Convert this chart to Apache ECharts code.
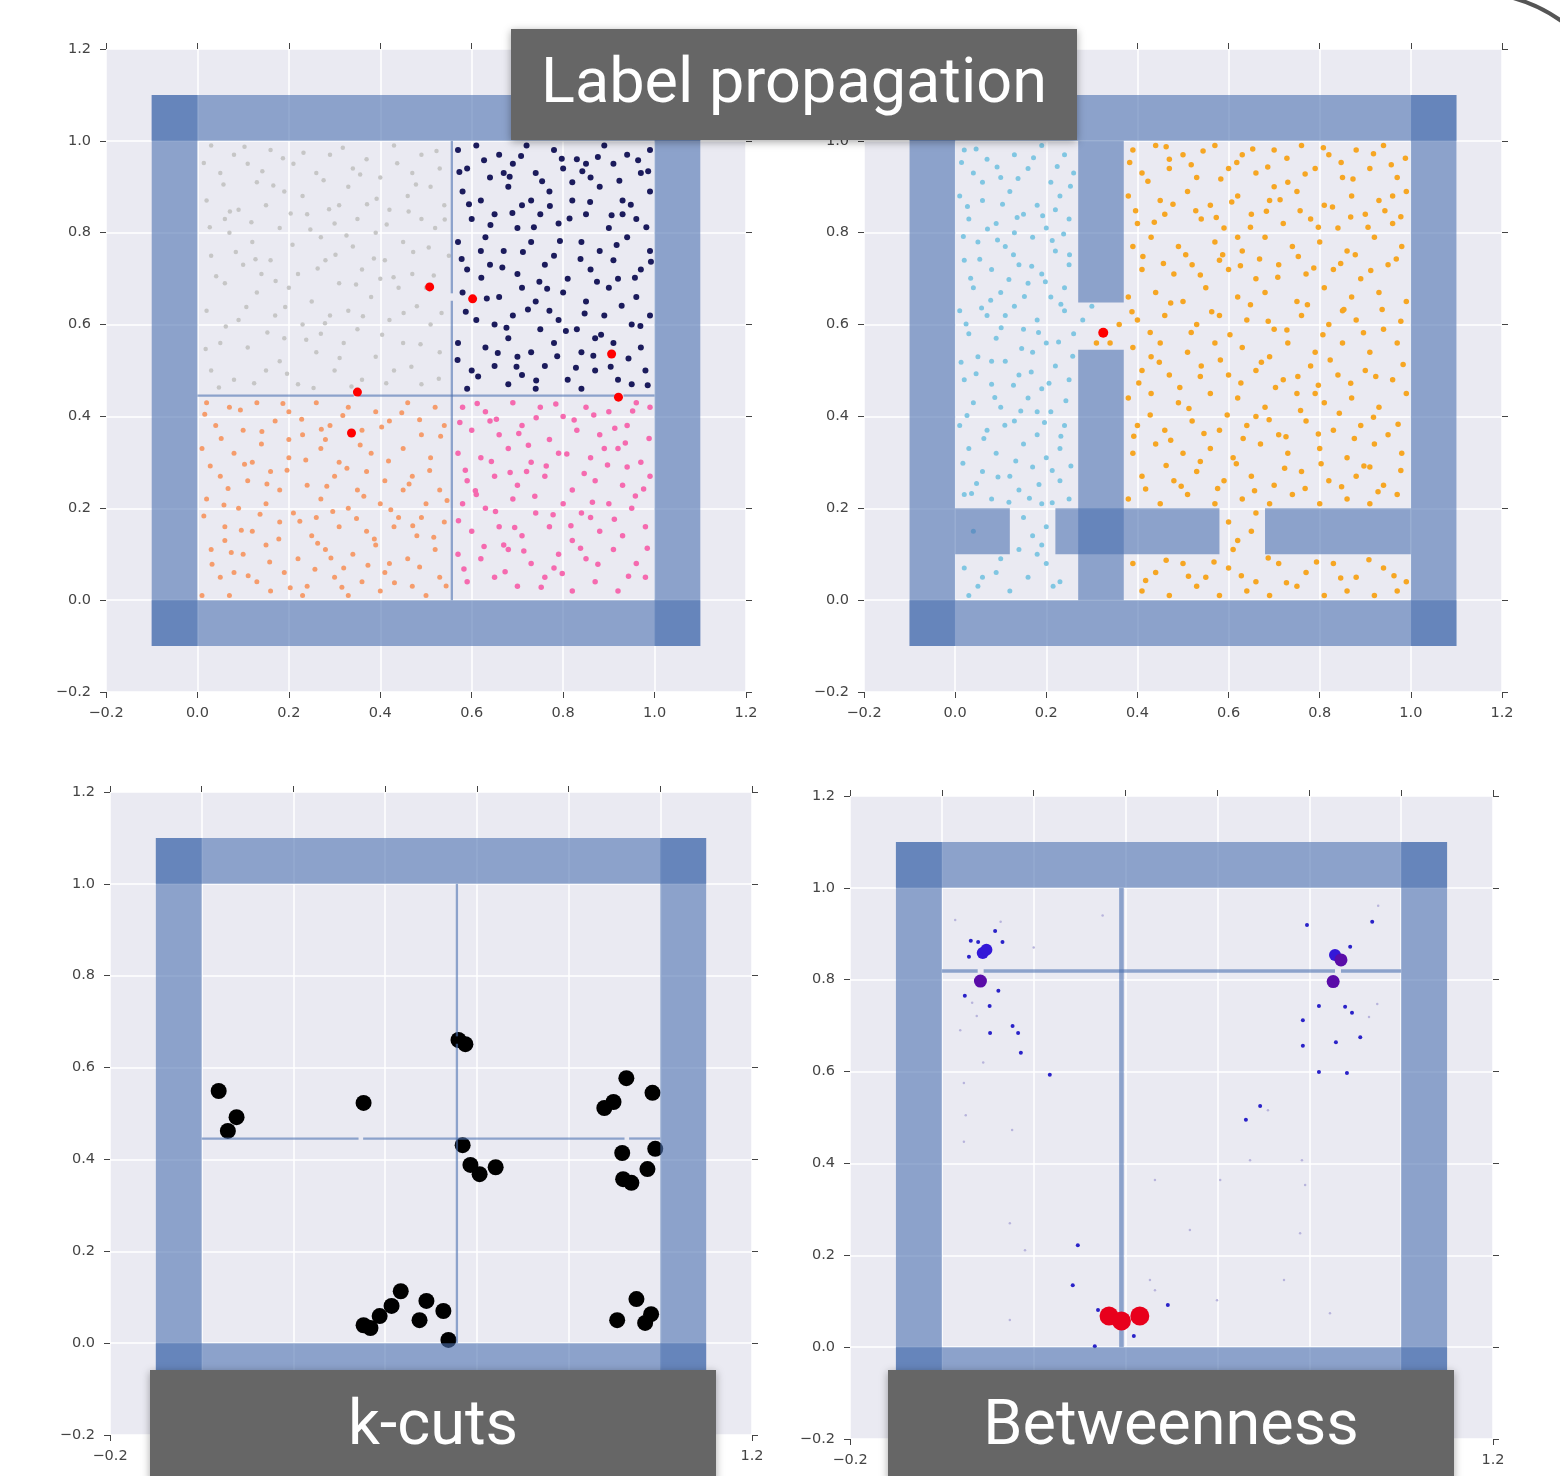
<!DOCTYPE html>
<html>
<head>
<meta charset="utf-8">
<script src="https://cdn.jsdelivr.net/npm/echarts@6/dist/echarts.min.js"></script>
<style>
    html, body { margin: 0; padding: 0; background: #fff; }
    #main { width: 1560px; height: 1476px; }
</style>
</head>
<body>
<div id="main"></div>
<script>
// axis ticks shared by all four panels
var tickValues = [-0.2, 0, 0.2, 0.4, 0.6, 0.8, 1.0, 1.2];

// walls: [x0, y0, x1, y1]
var outerWalls = [[-0.1, 1.0, 1.1, 1.1], [-0.1, -0.1, 1.1, 0.0], [-0.1, -0.1, 0.0, 1.1], [1.0, -0.1, 1.1, 1.1]];
var crossWalls = [[0.0, 0.443, 0.342, 0.448], [0.352, 0.443, 0.922, 0.448], [0.932, 0.443, 1.0, 0.448],
    [0.554, 0.0, 0.559, 0.652], [0.554, 0.668, 0.559, 1.0]];
var roomWalls = [[0.27, 0.0, 0.37, 0.545], [0.27, 0.648, 0.37, 1.0],
    [0.0, 0.1, 0.12, 0.2], [0.22, 0.1, 0.58, 0.2], [0.68, 0.1, 1.0, 0.2]];
var hubWalls = [[0.0, 0.815, 0.078, 0.823], [0.091, 0.815, 0.856, 0.823], [0.869, 0.815, 1.0, 0.823],
    [0.386, 0.0, 0.396, 0.052], [0.386, 0.068, 0.396, 1.0]];

// label propagation, left figure
var grayPts = [[0.03,0.99],[0.08,0.97],[0.16,0.98],[0.21,0.95],[0.29,0.97],[0.37,0.96],[0.43,0.99],[0.49,0.97],[0.53,0.94],
    [0.05,0.93],[0.13,0.91],[0.19,0.89],[0.26,0.93],[0.33,0.90],[0.40,0.92],[0.46,0.88],[0.51,0.90],
    [0.02,0.87],[0.09,0.85],[0.15,0.86],[0.24,0.84],[0.31,0.86],[0.35,0.83],[0.42,0.85],[0.49,0.83],[0.54,0.86],
    [0.07,0.80],[0.12,0.78],[0.18,0.81],[0.27,0.79],[0.34,0.77],[0.39,0.80],[0.45,0.78],[0.52,0.81],
    [0.03,0.75],[0.10,0.73],[0.16,0.74],[0.22,0.71],[0.28,0.74],[0.36,0.72],[0.41,0.74],[0.47,0.71],[0.55,0.75],
    [0.06,0.69],[0.13,0.67],[0.20,0.68],[0.25,0.65],[0.31,0.69],[0.38,0.66],[0.44,0.68],[0.48,0.64],
    [0.02,0.63],[0.09,0.61],[0.17,0.62],[0.23,0.60],[0.29,0.62],[0.35,0.59],[0.42,0.61],[0.51,0.60],
    [0.05,0.56],[0.11,0.55],[0.19,0.57],[0.26,0.54],[0.32,0.56],[0.39,0.53],[0.45,0.56],[0.53,0.54],
    [0.03,0.50],[0.08,0.48],[0.15,0.50],[0.22,0.47],[0.30,0.50],[0.36,0.48],[0.43,0.50],[0.49,0.47],
    [0.11,0.95],[0.34,0.94],[0.23,0.88],[0.47,0.93],[0.06,0.83],[0.30,0.82],[0.14,0.71],[0.40,0.70],
    [0.33,0.63],[0.27,0.58],[0.50,0.68],[0.18,0.52]];
var grayMore = [[0.014,0.952],[0.057,0.905],[0.103,0.987],[0.142,0.934],[0.187,0.962],[0.232,0.974],[0.276,0.914],[0.318,0.985],
    [0.356,0.927],[0.392,0.874],[0.437,0.951],[0.478,0.905],[0.523,0.978],[0.027,0.812],[0.071,0.846],[0.118,0.823],
    [0.166,0.903],[0.204,0.842],[0.247,0.807],[0.288,0.851],[0.326,0.794],[0.371,0.862],[0.414,0.818],[0.462,0.846],
    [0.506,0.768],[0.541,0.829],[0.041,0.705],[0.084,0.758],[0.127,0.742],[0.171,0.695],[0.208,0.774],[0.263,0.722],
    [0.302,0.752],[0.347,0.687],[0.386,0.744],[0.429,0.703],[0.472,0.758],[0.517,0.707],[0.018,0.547],[0.062,0.596],
    [0.107,0.638],[0.153,0.583],[0.192,0.638],[0.238,0.567],[0.279,0.603],[0.311,0.527],[0.362,0.618],[0.404,0.578],
    [0.451,0.625],[0.488,0.557],[0.534,0.625],[0.047,0.463],[0.124,0.472],[0.196,0.493],[0.254,0.462],[0.337,0.465],
    [0.413,0.472],[0.468,0.508],[0.528,0.482]];
var navyPts = [[0.57,0.98],[0.61,0.99],[0.66,0.97],[0.72,0.99],[0.78,0.98],[0.83,0.96],[0.89,0.99],[0.94,0.97],[0.99,0.98],
    [0.59,0.94],[0.64,0.92],[0.69,0.95],[0.74,0.93],[0.80,0.94],[0.86,0.92],[0.91,0.95],[0.97,0.93],
    [0.58,0.89],[0.62,0.87],[0.68,0.90],[0.71,0.86],[0.77,0.89],[0.82,0.87],[0.88,0.90],[0.93,0.87],[0.99,0.89],
    [0.60,0.83],[0.65,0.84],[0.70,0.81],[0.75,0.84],[0.79,0.82],[0.85,0.84],[0.90,0.81],[0.96,0.83],
    [0.57,0.78],[0.63,0.79],[0.67,0.76],[0.73,0.78],[0.78,0.75],[0.84,0.78],[0.88,0.76],[0.94,0.79],[0.99,0.76],
    [0.59,0.72],[0.64,0.73],[0.70,0.71],[0.76,0.73],[0.81,0.70],[0.86,0.72],[0.92,0.70],[0.97,0.72],
    [0.58,0.67],[0.66,0.66],[0.71,0.68],[0.74,0.65],[0.80,0.67],[0.85,0.65],[0.90,0.68],[0.96,0.66],
    [0.61,0.61],[0.65,0.60],[0.69,0.62],[0.75,0.59],[0.79,0.61],[0.83,0.59],[0.89,0.62],[0.95,0.60],[0.99,0.62],
    [0.57,0.56],[0.63,0.55],[0.68,0.57],[0.73,0.54],[0.78,0.56],[0.84,0.54],[0.91,0.56],[0.97,0.55],
    [0.60,0.50],[0.65,0.51],[0.71,0.49],[0.76,0.51],[0.81,0.48],[0.87,0.50],[0.92,0.48],[0.98,0.50],
    [0.59,0.46],[0.68,0.47],[0.74,0.46],[0.84,0.46],[0.95,0.47],
    [0.67,0.93],[0.85,0.95],[0.73,0.87],[0.62,0.76],[0.91,0.74],[0.77,0.63],[0.87,0.57],[0.70,0.53],[0.82,0.91],[0.93,0.84]];
var navyMore = [[0.573,0.932],[0.627,0.958],[0.683,0.922],[0.708,0.967],[0.754,0.912],[0.797,0.961],[0.842,0.934],[0.876,0.965],
    [0.923,0.913],[0.964,0.958],[0.986,0.934],[0.594,0.862],[0.641,0.817],[0.689,0.843],[0.736,0.812],[0.771,0.858],
    [0.814,0.831],[0.859,0.867],[0.906,0.838],[0.948,0.861],[0.982,0.812],[0.578,0.743],[0.621,0.702],[0.667,0.724],
    [0.712,0.758],[0.748,0.693],[0.793,0.782],[0.838,0.743],[0.874,0.693],[0.917,0.773],[0.957,0.702],[0.992,0.737],
    [0.587,0.628],[0.633,0.657],[0.676,0.593],[0.723,0.633],[0.765,0.678],[0.806,0.586],[0.847,0.624],[0.883,0.578],
    [0.928,0.641],[0.969,0.597],[0.569,0.523],[0.614,0.487],[0.657,0.538],[0.698,0.508],[0.741,0.478],[0.787,0.531],
    [0.828,0.506],[0.866,0.532],[0.904,0.508],[0.943,0.526],[0.985,0.468]];
var salmonPts = [[0.02,0.43],[0.07,0.42],[0.13,0.43],[0.20,0.41],[0.26,0.43],[0.33,0.42],[0.39,0.41],[0.46,0.43],[0.52,0.42],
    [0.04,0.38],[0.10,0.37],[0.17,0.39],[0.23,0.36],[0.29,0.38],[0.36,0.37],[0.42,0.39],[0.49,0.36],[0.54,0.38],
    [0.01,0.33],[0.08,0.32],[0.14,0.34],[0.20,0.31],[0.27,0.33],[0.31,0.30],[0.38,0.32],[0.45,0.33],[0.51,0.31],
    [0.05,0.27],[0.11,0.26],[0.16,0.28],[0.24,0.25],[0.30,0.27],[0.35,0.24],[0.41,0.26],[0.47,0.27],[0.53,0.24],
    [0.02,0.22],[0.09,0.20],[0.15,0.21],[0.21,0.19],[0.27,0.22],[0.33,0.20],[0.40,0.21],[0.44,0.18],[0.50,0.21],
    [0.06,0.16],[0.12,0.15],[0.18,0.17],[0.25,0.14],[0.31,0.16],[0.37,0.15],[0.43,0.16],[0.48,0.14],[0.54,0.17],
    [0.03,0.11],[0.10,0.10],[0.15,0.12],[0.22,0.09],[0.28,0.11],[0.34,0.10],[0.39,0.12],[0.46,0.09],[0.52,0.11],
    [0.05,0.05],[0.08,0.06],[0.13,0.04],[0.19,0.06],[0.24,0.03],[0.30,0.05],[0.36,0.04],[0.41,0.06],[0.47,0.03],[0.53,0.05],
    [0.01,0.01],[0.07,0.01],[0.16,0.02],[0.23,0.01],[0.33,0.01],[0.40,0.02],[0.50,0.01],
    [0.12,0.30],[0.28,0.35],[0.18,0.24],[0.37,0.28],[0.45,0.24],[0.06,0.13],[0.26,0.18],[0.42,0.08],[0.20,0.35],[0.49,0.18],[0.32,0.07]];
var salmonMore = [[0.016,0.405],[0.052,0.352],[0.094,0.414],[0.141,0.367],[0.187,0.428],[0.228,0.394],[0.271,0.372],[0.318,0.402],
    [0.356,0.338],[0.403,0.377],[0.447,0.408],[0.486,0.393],[0.532,0.357],[0.028,0.292],[0.067,0.243],[0.103,0.296],
    [0.152,0.253],[0.196,0.283],[0.237,0.305],[0.283,0.248],[0.327,0.287],[0.364,0.226],[0.418,0.303],[0.463,0.253],
    [0.508,0.282],[0.546,0.217],[0.014,0.183],[0.058,0.207],[0.096,0.152],[0.137,0.187],[0.178,0.133],[0.224,0.172],
    [0.263,0.124],[0.296,0.193],[0.348,0.178],[0.387,0.133],[0.423,0.197],[0.471,0.162],[0.517,0.137],[0.032,0.078],
    [0.074,0.104],[0.111,0.053],[0.158,0.083],[0.203,0.027],[0.257,0.067],[0.292,0.092],[0.316,0.028],[0.373,0.076],
    [0.431,0.038],[0.486,0.072],[0.544,0.031]];
var pinkPts = [[0.58,0.42],[0.63,0.41],[0.69,0.43],[0.75,0.42],[0.80,0.40],[0.85,0.42],[0.90,0.41],[0.96,0.43],[0.99,0.42],
    [0.60,0.37],[0.66,0.36],[0.71,0.38],[0.77,0.35],[0.83,0.37],[0.88,0.36],[0.94,0.38],
    [0.57,0.32],[0.62,0.31],[0.68,0.33],[0.73,0.30],[0.79,0.32],[0.86,0.31],[0.92,0.33],[0.97,0.30],
    [0.59,0.26],[0.65,0.27],[0.70,0.25],[0.76,0.27],[0.82,0.24],[0.87,0.26],[0.93,0.25],[0.99,0.27],
    [0.58,0.21],[0.63,0.20],[0.69,0.22],[0.74,0.19],[0.80,0.21],[0.84,0.19],[0.90,0.21],[0.95,0.20],
    [0.60,0.15],[0.66,0.16],[0.71,0.14],[0.77,0.16],[0.82,0.13],[0.88,0.15],[0.93,0.14],[0.98,0.16],
    [0.57,0.10],[0.62,0.09],[0.68,0.11],[0.73,0.08],[0.79,0.10],[0.85,0.09],[0.91,0.11],[0.96,0.08],
    [0.59,0.04],[0.65,0.05],[0.70,0.03],[0.76,0.05],[0.82,0.02],[0.87,0.04],[0.92,0.02],[0.98,0.05],
    [0.64,0.39],[0.72,0.28],[0.86,0.18],[0.61,0.23],[0.78,0.07],[0.94,0.29],[0.67,0.12],[0.89,0.33]];
var pinkMore = [[0.574,0.387],[0.612,0.428],[0.654,0.394],[0.703,0.363],[0.741,0.397],[0.784,0.427],[0.824,0.392],[0.867,0.403],
    [0.913,0.374],[0.952,0.412],[0.988,0.352],[0.586,0.283],[0.643,0.302],[0.684,0.278],[0.724,0.337],[0.763,0.292],
    [0.808,0.318],[0.846,0.276],[0.897,0.294],[0.936,0.342],[0.976,0.242],[0.571,0.173],[0.608,0.238],[0.652,0.193],
    [0.694,0.158],[0.738,0.226],[0.778,0.186],[0.817,0.162],[0.864,0.213],[0.912,0.176],[0.958,0.227],[0.583,0.068],
    [0.627,0.117],[0.673,0.062],[0.714,0.107],[0.752,0.028],[0.798,0.058],[0.838,0.113],[0.876,0.078],[0.943,0.052],
    [0.984,0.113]];
var agentsA = [[0.508,0.682],[0.602,0.656],[0.906,0.536],[0.921,0.442],[0.337,0.364],[0.350,0.453]];

// label propagation, right figure
var bluePts = [[0.02,0.98],[0.07,0.96],[0.13,0.97],[0.19,0.99],[0.24,0.97],
    [0.04,0.93],[0.10,0.92],[0.16,0.94],[0.21,0.91],[0.26,0.93],
    [0.01,0.88],[0.06,0.87],[0.12,0.89],[0.18,0.86],[0.23,0.88],
    [0.03,0.83],[0.09,0.82],[0.15,0.84],[0.20,0.81],[0.25,0.83],
    [0.05,0.78],[0.11,0.77],[0.17,0.79],[0.22,0.76],[0.02,0.74],
    [0.08,0.72],[0.14,0.73],[0.19,0.71],[0.25,0.73],[0.04,0.68],
    [0.10,0.67],[0.16,0.69],[0.21,0.66],[0.01,0.63],[0.07,0.62],
    [0.13,0.64],[0.18,0.61],[0.24,0.63],[0.03,0.58],[0.09,0.57],
    [0.15,0.59],[0.20,0.56],[0.26,0.58],[0.05,0.53],[0.11,0.52],
    [0.17,0.54],[0.22,0.51],[0.02,0.48],[0.08,0.47],[0.14,0.49],
    [0.19,0.46],[0.25,0.48],[0.04,0.43],[0.10,0.42],[0.16,0.44],
    [0.21,0.41],[0.01,0.38],[0.07,0.37],[0.13,0.39],[0.18,0.36],
    [0.24,0.38],[0.03,0.33],[0.09,0.32],[0.15,0.34],[0.20,0.31],
    [0.06,0.28],[0.12,0.27],[0.17,0.29],[0.23,0.26],[0.02,0.23],
    [0.08,0.22],[0.14,0.24],[0.19,0.21],[0.25,0.22],
    [0.15,0.18],[0.17,0.14],[0.20,0.16],[0.14,0.11],[0.19,0.12],
    [0.02,0.07],[0.05,0.03],[0.09,0.06],[0.12,0.02],[0.16,0.05],[0.20,0.08],[0.23,0.04],[0.03,0.01],[0.10,0.09],
    [0.11,0.62],[0.06,0.91],[0.22,0.85],[0.13,0.80],[0.24,0.68],[0.08,0.52],[0.18,0.41],[0.23,0.33],[0.04,0.15],
    [0.28,0.61],[0.30,0.64]];
var blueMore = [[0.014,0.953],[0.046,0.982],[0.092,0.943],[0.138,0.918],[0.172,0.963],[0.224,0.944],[0.253,0.901],
    [0.027,0.857],[0.071,0.808],[0.104,0.862],[0.136,0.833],[0.192,0.837],[0.238,0.797],[0.018,0.792],[0.054,0.742],
    [0.093,0.784],[0.128,0.752],[0.168,0.727],[0.213,0.783],[0.251,0.752],[0.034,0.701],[0.078,0.653],[0.118,0.698],
    [0.152,0.661],[0.198,0.693],[0.232,0.644],[0.024,0.601],[0.058,0.636],[0.101,0.593],[0.146,0.548],[0.183,0.583],
    [0.227,0.562],[0.258,0.531],[0.013,0.518],[0.046,0.493],[0.087,0.441],[0.128,0.468],[0.167,0.497],[0.206,0.472],
    [0.243,0.434],[0.026,0.402],[0.063,0.352],[0.109,0.381],[0.144,0.412],[0.196,0.387],[0.232,0.357],[0.017,0.298],
    [0.047,0.254],[0.094,0.268],[0.133,0.303],[0.184,0.252],[0.213,0.282],[0.254,0.292],[0.036,0.232],[0.118,0.213],
    [0.163,0.222],[0.213,0.212],[0.180,0.100],[0.060,0.050],[0.215,0.030]];
var amberPts = [[0.39,0.98],[0.44,0.99],[0.50,0.97],[0.57,0.99],[0.63,0.97],[0.70,0.98],[0.76,0.99],[0.82,0.97],[0.88,0.98],[0.94,0.99],
    [0.41,0.93],[0.47,0.94],[0.53,0.92],[0.60,0.94],[0.66,0.93],[0.73,0.91],[0.79,0.94],[0.85,0.92],[0.91,0.94],[0.97,0.92],
    [0.38,0.88],[0.45,0.87],[0.51,0.89],[0.56,0.86],[0.62,0.88],[0.69,0.87],[0.75,0.89],[0.81,0.86],[0.87,0.88],[0.93,0.87],[0.99,0.89],
    [0.40,0.82],[0.46,0.84],[0.54,0.83],[0.59,0.81],[0.65,0.84],[0.72,0.82],[0.78,0.83],[0.84,0.81],[0.90,0.84],[0.96,0.82],
    [0.39,0.77],[0.43,0.79],[0.49,0.77],[0.57,0.78],[0.63,0.76],[0.68,0.79],[0.74,0.77],[0.80,0.78],[0.86,0.76],[0.92,0.79],[0.98,0.77],
    [0.41,0.72],[0.48,0.71],[0.52,0.73],[0.60,0.72],[0.66,0.70],[0.71,0.73],[0.77,0.71],[0.83,0.72],[0.89,0.70],[0.95,0.73],
    [0.38,0.66],[0.44,0.67],[0.50,0.65],[0.55,0.68],[0.62,0.66],[0.68,0.67],[0.75,0.65],[0.81,0.68],[0.87,0.66],[0.93,0.67],[0.99,0.65],
    [0.31,0.56],[0.34,0.56],[0.36,0.60],[0.40,0.61],[0.46,0.62],[0.53,0.60],[0.58,0.62],[0.64,0.61],[0.70,0.59],[0.76,0.62],[0.82,0.60],[0.88,0.61],[0.94,0.59],
    [0.39,0.55],[0.45,0.56],[0.51,0.54],[0.57,0.56],[0.63,0.55],[0.69,0.53],[0.73,0.56],[0.79,0.54],[0.85,0.56],[0.91,0.54],[0.97,0.56],
    [0.41,0.50],[0.47,0.49],[0.54,0.51],[0.60,0.49],[0.66,0.50],[0.72,0.48],[0.78,0.51],[0.84,0.49],[0.90,0.50],[0.96,0.48],
    [0.38,0.44],[0.43,0.45],[0.49,0.43],[0.56,0.45],[0.62,0.44],[0.68,0.42],[0.75,0.45],[0.81,0.43],[0.87,0.44],[0.93,0.42],[0.99,0.45],
    [0.40,0.38],[0.46,0.37],[0.52,0.39],[0.58,0.37],[0.64,0.38],[0.71,0.36],[0.77,0.39],[0.83,0.37],[0.89,0.38],[0.95,0.36],
    [0.39,0.32],[0.44,0.34],[0.50,0.32],[0.56,0.33],[0.61,0.31],[0.67,0.34],[0.73,0.32],[0.80,0.33],[0.86,0.31],[0.92,0.34],[0.98,0.32],
    [0.41,0.27],[0.48,0.26],[0.53,0.28],[0.59,0.26],[0.65,0.27],[0.70,0.25],[0.76,0.28],[0.82,0.26],[0.88,0.27],[0.94,0.25],
    [0.38,0.22],[0.45,0.21],[0.51,0.23],[0.57,0.21],[0.63,0.22],[0.69,0.21],[0.74,0.23],[0.80,0.21],[0.86,0.22],[0.91,0.21],[0.97,0.23],
    [0.60,0.17],[0.62,0.13],[0.65,0.15],[0.61,0.11],[0.66,0.19],
    [0.39,0.08],[0.44,0.06],[0.50,0.08],[0.55,0.05],[0.60,0.07],[0.66,0.04],[0.71,0.08],[0.77,0.06],[0.83,0.08],[0.88,0.05],[0.94,0.07],[0.99,0.04],
    [0.41,0.02],[0.47,0.01],[0.53,0.03],[0.58,0.01],[0.64,0.02],[0.69,0.01],[0.75,0.03],[0.81,0.01],[0.86,0.02],[0.92,0.01],[0.97,0.02],
    [0.47,0.96],[0.70,0.90],[0.58,0.74],[0.85,0.63],[0.43,0.53],[0.66,0.40],[0.91,0.29],[0.79,0.45],[0.62,0.79],[0.96,0.88]];
var amberMore = [[0.383,0.953],[0.423,0.912],[0.463,0.987],[0.518,0.948],[0.544,0.978],[0.583,0.917],[0.618,0.953],[0.653,0.982],
    [0.686,0.943],[0.728,0.962],[0.768,0.928],[0.808,0.985],[0.847,0.953],[0.873,0.917],[0.918,0.972],[0.957,0.948],
    [0.988,0.962],[0.396,0.848],[0.437,0.823],[0.478,0.862],[0.528,0.848],[0.573,0.833],[0.607,0.867],[0.648,0.812],
    [0.683,0.847],[0.713,0.872],[0.757,0.848],[0.797,0.812],[0.828,0.856],[0.868,0.834],[0.906,0.812],[0.943,0.848],
    [0.978,0.835],[0.412,0.748],[0.457,0.733],[0.506,0.752],[0.538,0.708],[0.587,0.752],[0.626,0.728],[0.668,0.743],
    [0.708,0.703],[0.753,0.748],[0.787,0.723],[0.846,0.733],[0.878,0.752],[0.912,0.718],[0.968,0.743],[0.388,0.628],
    [0.428,0.583],[0.473,0.647],[0.518,0.583],[0.563,0.628],[0.603,0.578],[0.648,0.643],[0.687,0.607],[0.728,0.588],
    [0.773,0.643],[0.807,0.578],[0.853,0.633],[0.896,0.582],[0.937,0.633],[0.978,0.607],[0.403,0.473],[0.448,0.518],
    [0.493,0.463],[0.538,0.487],[0.582,0.523],[0.627,0.473],[0.672,0.518],[0.703,0.463],[0.752,0.487],[0.797,0.468],
    [0.823,0.523],[0.868,0.472],[0.923,0.487],[0.983,0.513],[0.392,0.357],[0.428,0.403],[0.473,0.348],[0.513,0.417],
    [0.546,0.363],[0.597,0.403],[0.632,0.352],[0.689,0.393],[0.726,0.356],[0.758,0.413],[0.797,0.362],[0.843,0.407],
    [0.876,0.352],[0.918,0.398],[0.972,0.383],[0.418,0.242],[0.463,0.293],[0.496,0.248],[0.538,0.302],[0.576,0.243],
    [0.617,0.297],[0.657,0.238],[0.723,0.287],[0.768,0.243],[0.803,0.297],[0.848,0.247],[0.897,0.292],[0.928,0.236],
    [0.978,0.282],[0.418,0.043],[0.463,0.087],[0.512,0.052],[0.568,0.083],[0.628,0.053],[0.687,0.092],[0.727,0.038],
    [0.793,0.083],[0.846,0.048],[0.908,0.088],[0.963,0.053]];
var agentsB = [[0.325,0.582]];

// k-cuts
var cutPts = [[0.037,0.549],[0.076,0.492],[0.057,0.462],[0.353,0.523],[0.560,0.660],[0.575,0.651],
    [0.569,0.431],[0.586,0.388],[0.606,0.368],[0.641,0.383],[0.926,0.577],[0.983,0.545],[0.878,0.512],
    [0.898,0.525],[0.989,0.423],[0.917,0.414],[0.972,0.379],[0.919,0.357],[0.937,0.349],
    [0.353,0.039],[0.368,0.033],[0.388,0.059],[0.414,0.081],[0.434,0.113],[0.475,0.050],[0.490,0.092],
    [0.527,0.070],[0.538,0.007],[0.906,0.050],[0.948,0.096],[0.980,0.063],[0.967,0.044]];

// betweenness
var btwDots = [[0.063,0.885],[0.079,0.882],[0.059,0.850],[0.116,0.906],[0.132,0.882],[0.123,0.776],[0.050,0.765],
    [0.104,0.743],[0.154,0.699],[0.166,0.684],[0.105,0.684],[0.172,0.641],[0.235,0.593],[0.795,0.919],[0.937,0.926],
    [0.889,0.872],[0.878,0.741],[0.893,0.728],[0.821,0.743],[0.786,0.712],[0.786,0.656],[0.858,0.664],[0.911,0.675],
    [0.882,0.597],[0.821,0.599],[0.693,0.525],[0.662,0.495],[0.492,0.092],[0.296,0.222],[0.285,0.135],[0.340,0.081],
    [0.418,0.024],[0.333,0.002]];
var btwFaint = [[0.128,0.926],[0.066,0.750],[0.076,0.721],[0.930,0.719],[0.948,0.747],[0.950,0.961],[0.710,0.516],
    [0.784,0.407],[0.791,0.353],[0.671,0.407],[0.464,0.364],[0.148,0.270],[0.181,0.211],[0.048,0.575],[0.052,0.505],
    [0.048,0.447],[0.153,0.473],[0.540,0.255],[0.780,0.248],[0.845,0.074],[0.599,0.102],[0.464,0.124],[0.453,0.146],
    [0.745,0.146],[0.606,0.364],[0.148,0.059],[0.029,0.930],[0.200,0.870],[0.040,0.690],[0.350,0.940],[0.090,0.620]];
var hubBlue = [[0.089,0.858],[0.097,0.865],[0.856,0.854]];
var hubPurple = [[0.084,0.797],[0.869,0.843],[0.852,0.796]];
var hubRed = [[0.364,0.068],[0.391,0.057],[0.431,0.068]];

var grids = [
    { left: 106, top: 49, width: 640, height: 643 },
    { left: 864, top: 49, width: 638, height: 643 },
    { left: 110, top: 792, width: 642, height: 643 },
    { left: 850, top: 796, width: 643, height: 643 }
];

function fmt(v) {
    return (v < 0 ? '\u2212' : '') + Math.abs(v).toFixed(1);
}

function makeAxis(dim, g, pos, withLabel) {
    return {
        type: 'value',
        gridIndex: g,
        position: pos,
        min: tickValues[0],
        max: tickValues[tickValues.length - 1],
        interval: 0.2,
        axisLine: { show: false, onZero: false },
        axisTick: { show: true, length: 6, lineStyle: { color: '#444', width: 1 } },
        axisLabel: {
            show: withLabel,
            margin: dim === 'x' ? 14 : 15,
            formatter: fmt,
            color: '#444',
            fontSize: 14.5,
            fontFamily: 'DejaVu Sans'
        },
        splitLine: { show: withLabel, lineStyle: { color: '#ffffff', width: 1.5 } }
    };
}

function scatter(g, data, size, color, z) {
    return {
        type: 'scatter',
        xAxisIndex: g * 2,
        yAxisIndex: g * 2,
        data: data,
        symbolSize: size,
        itemStyle: { color: color, opacity: 1 },
        silent: true,
        z: z || 2
    };
}

function wallItem(params, api) {
    var p0 = api.coord([api.value(0), api.value(1)]);
    var p1 = api.coord([api.value(2), api.value(3)]);
    return {
        type: 'rect',
        shape: {
            x: Math.min(p0[0], p1[0]),
            y: Math.min(p0[1], p1[1]),
            width: Math.abs(p1[0] - p0[0]),
            height: Math.abs(p1[1] - p0[1])
        },
        style: { fill: 'rgba(76,114,176,0.6)' }
    };
}

function walls(g, data) {
    return {
        type: 'custom',
        xAxisIndex: g * 2,
        yAxisIndex: g * 2,
        renderItem: wallItem,
        encode: { x: [0, 2], y: [1, 3] },
        data: data,
        silent: true,
        clip: false,
        z: 3
    };
}

function titleBox(x, y, w, h, text) {
    return {
        type: 'group',
        z: 100,
        children: [
            {
                type: 'rect',
                z: 100,
                shape: { x: x, y: y, width: w, height: h },
                style: { fill: '#666666', shadowBlur: 8, shadowColor: 'rgba(0,0,0,0.35)', shadowOffsetY: 2 }
            },
            {
                type: 'text',
                z: 101,
                style: {
                    x: x + w / 2, y: y + h / 2 + 2,
                    text: text,
                    fill: '#ffffff',
                    font: '63px Roboto',
                    textAlign: 'center',
                    textVerticalAlign: 'middle'
                }
            }
        ]
    };
}

var xAxes = [], yAxes = [];
for (var g = 0; g < 4; g++) {
    xAxes.push(makeAxis('x', g, 'bottom', true), makeAxis('x', g, 'top', false));
    yAxes.push(makeAxis('y', g, 'left', true), makeAxis('y', g, 'right', false));
}

var chart = echarts.init(document.getElementById('main'));
chart.setOption({
    animation: false,
    backgroundColor: '#ffffff',
    grid: grids.map(function (r) {
        return { left: r.left, top: r.top, width: r.width, height: r.height, show: true, backgroundColor: '#EAEAF2', borderWidth: 0 };
    }),
    xAxis: xAxes,
    yAxis: yAxes,
    series: [
        scatter(0, grayPts.concat(grayMore), 4.5, '#c6c6c6'),
        scatter(0, navyPts.concat(navyMore), 6, '#1b1b5c'),
        scatter(0, salmonPts.concat(salmonMore), 5, '#f59c6c'),
        scatter(0, pinkPts.concat(pinkMore), 5.5, '#f56aaf'),
        walls(0, outerWalls.concat(crossWalls)),
        scatter(0, agentsA, 9, '#ff0000', 4),

        scatter(1, bluePts.concat(blueMore), 5, '#80c6e2'),
        scatter(1, amberPts.concat(amberMore), 5.5, '#f6a623'),
        walls(1, outerWalls.concat(roomWalls)),
        scatter(1, agentsB, 10, '#ff0000', 4),

        scatter(2, cutPts, 16, '#000000'),
        walls(2, outerWalls.concat(crossWalls)),

        scatter(3, btwFaint, 2.5, '#b8b4dc'),
        scatter(3, btwDots, 4, '#2a22c8'),
        walls(3, outerWalls.concat(hubWalls)),
        scatter(3, hubBlue, 12, '#3418d8', 4),
        scatter(3, hubPurple, 13, '#5a0ca8', 4),
        scatter(3, hubRed, 19, '#e8001c', 4)
    ],
    graphic: [
        titleBox(511, 29, 566, 111, 'Label propagation'),
        titleBox(150, 1370, 566, 112, 'k-cuts'),
        titleBox(888, 1370, 566, 112, 'Betweenness'),
        {
            type: 'arc',
            z: 100,
            shape: { cx: 1470, cy: 150, r: 158, startAngle: -1.4, endAngle: -0.8 },
            style: { stroke: '#555555', lineWidth: 4, fill: null }
        }
    ]
});
</script>
</body>
</html>
